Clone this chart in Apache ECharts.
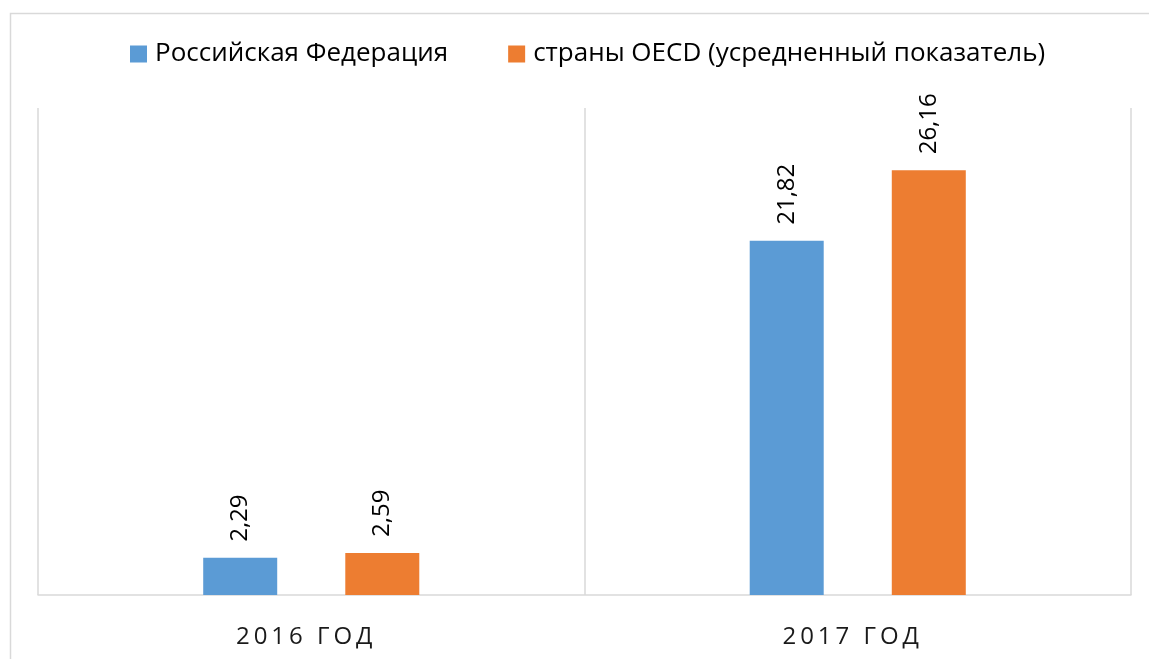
<!DOCTYPE html>
<html>
<head>
<meta charset="utf-8">
<script src="https://cdn.jsdelivr.net/npm/echarts@6/dist/echarts.min.js"></script>
<style>html,body{margin:0;padding:0;background:#fff}#c{width:1149px;height:659px}</style>
</head>
<body>
<div id="c"></div>
<script>
const categories = ['2016 ГОД', '2017 ГОД'];
const seriesNames = ['Российская Федерация', 'страны OECD (усредненный показатель)'];
const russia = [2.29, 21.82];
const oecd = [2.59, 26.16];

const chart = echarts.init(document.getElementById('c'));
const fontFamily = '"Open Sans", "Noto Sans", sans-serif';
const labelCfg = {
  show: true,
  position: 'top',
  rotate: 90,
  align: 'left',
  verticalAlign: 'middle',
  distance: 16,
  fontSize: 24,
  fontFamily: fontFamily,
  color: '#000',
  formatter: p => String(p.value.toFixed(2)).replace('.', ',')
};
chart.setOption({
  animation: false,
  graphic: [{
    type: 'rect', left: 8, top: 11, shape: { x: 0, y: 0, width: 1160, height: 670 },
    style: { fill: 'none', stroke: '#d9d9d9', lineWidth: 1.5 }, silent: true
  }],
  legend: {
    left: 125, top: 36,
    itemWidth: 17, itemHeight: 17, itemGap: 60,
    icon: 'rect',
    textStyle: { fontSize: 26, fontFamily: fontFamily, color: '#000', padding: [0, 0, 0, 3] },
    data: seriesNames
  },
  grid: { left: 38, right: 18, top: 108, bottom: 64, containLabel: false },
  xAxis: {
    type: 'category',
    data: categories,
    axisLine: { show: true, lineStyle: { color: '#d9d9d9', width: 1.5 } },
    axisTick: { show: false },
    splitLine: { show: true, lineStyle: { color: '#d9d9d9', width: 1.5 } },
    axisLabel: {
      margin: 30, fontSize: 24, fontFamily: fontFamily, color: '#1a1a1a',
      padding: [0, 14, 0, 0],
      formatter: v => v.split('').join('\u2009')
    }
  },
  yAxis: {
    type: 'value', min: 0, max: 30, show: false, splitLine: { show: false }
  },
  series: [
    { name: seriesNames[0], type: 'bar', data: russia, barWidth: 74, barGap: '92%',
      itemStyle: { color: '#5b9bd5' }, label: labelCfg },
    { name: seriesNames[1], type: 'bar', data: oecd, barWidth: 74,
      itemStyle: { color: '#ed7d31' }, label: labelCfg }
  ]
});
</script>
</body>
</html>
